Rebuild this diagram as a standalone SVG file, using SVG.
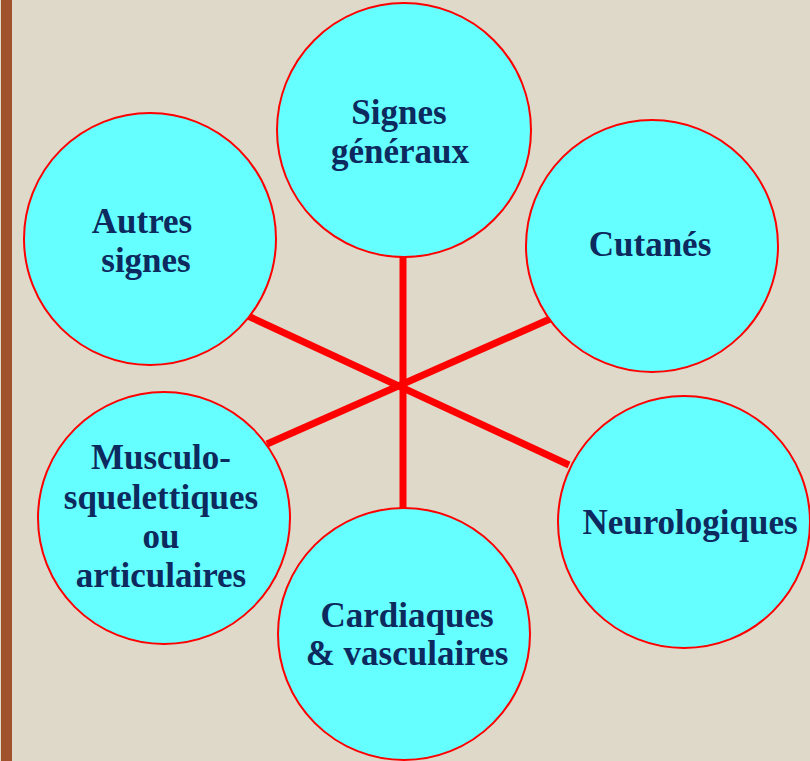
<svg xmlns="http://www.w3.org/2000/svg" width="810" height="761" viewBox="0 0 810 761">
<style>
.node circle{fill:#66ffff;stroke:#ff0000;stroke-width:2}
.node text{font-family:"Liberation Serif",serif;font-weight:bold;font-size:35px;fill:#0c2a5e;text-anchor:middle}
.spoke{stroke:#ff0000;stroke-width:7;stroke-linecap:butt}
</style>
<rect x="0" y="0" width="810" height="761" fill="#dfd9c9"/>
<rect x="1" y="0" width="11" height="761" fill="#a0522d"/>
<g id="connectors">
<line class="spoke" x1="403" y1="256" x2="403" y2="509"/>
<line class="spoke" x1="248" y1="316" x2="569" y2="465"/>
<line class="spoke" x1="550" y1="319" x2="267" y2="444"/>
</g>
<g id="signes-generaux" class="node">
<circle cx="404" cy="130" r="127"/>
<text x="399" y="124">Signes</text>
<text x="400" y="163">généraux</text>
</g>
<g id="autres-signes" class="node">
<circle cx="150" cy="239" r="126"/>
<text x="142" y="233">Autres</text>
<text x="146" y="272">signes</text>
</g>
<g id="cutanes" class="node">
<circle cx="652" cy="246" r="126"/>
<text x="650" y="256">Cutanés</text>
</g>
<g id="musculo" class="node">
<circle cx="164" cy="518" r="126"/>
<text x="161" y="469">Musculo-</text>
<text x="161" y="509">squelettiques</text>
<text x="161" y="548">ou</text>
<text x="161" y="587">articulaires</text>
</g>
<g id="neurologiques" class="node">
<circle cx="684" cy="522" r="126"/>
<text x="690" y="534">Neurologiques</text>
</g>
<g id="cardiaques" class="node">
<circle cx="404" cy="634" r="126"/>
<text x="407" y="627">Cardiaques</text>
<text x="407" y="665">&amp; vasculaires</text>
</g>
</svg>
